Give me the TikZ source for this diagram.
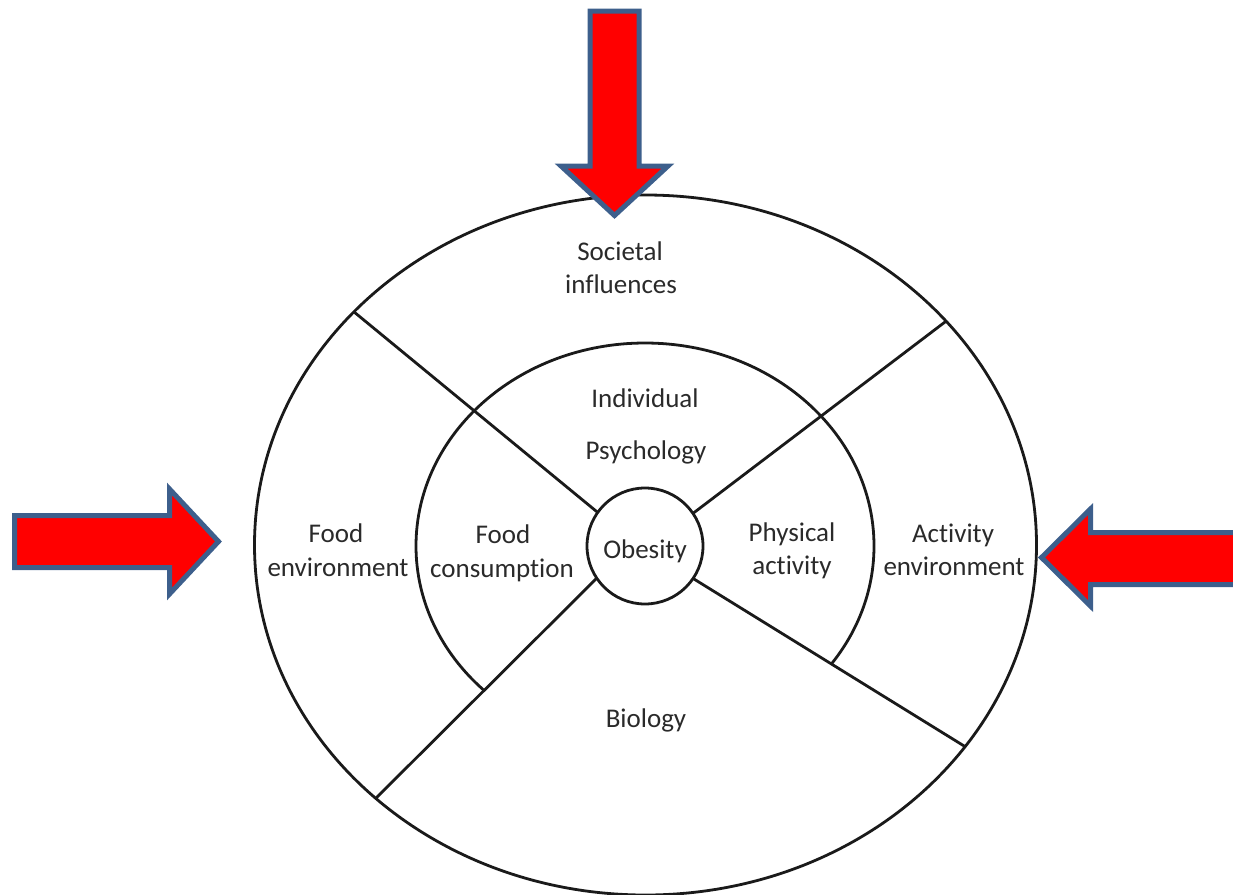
\documentclass[tikz,border=0pt]{standalone}
\usepackage{fontspec}
\setmainfont{Carlito}[Ligatures={NoCommon}]
\definecolor{arrowred}{HTML}{FF0000}
\definecolor{arrowedge}{HTML}{3D5F8C}
\definecolor{linegray}{HTML}{1A1A1A}
\definecolor{textgray}{HTML}{2A2A2A}
\begin{document}
\begin{tikzpicture}[x=1pt,y=-1pt,
  ring/.style={draw=linegray,line width=2.8pt},
  divider/.style={draw=linegray,line width=2.8pt},
  bigarrow/.style={fill=arrowred,draw=arrowedge,line width=5pt,line join=miter},
  lbl/.style={font=\fontsize{27}{33}\selectfont,text=textgray,inner sep=0pt,anchor=base}]
\useasboundingbox (0,0) rectangle (1233,894);
\clip (0,0) rectangle (1233,894);

% centres
\coordinate (oc) at (645.5,545);
\coordinate (ic) at (645,546);
\coordinate (cc) at (645,546);

% dividers clipped to outer ellipse
\begin{scope}
  \clip (oc) ellipse [x radius=391pt, y radius=350pt];
  \coordinate (ul1) at (613,525); \coordinate (ul2) at (331,293);
  \coordinate (ur1) at (679,524); \coordinate (ur2) at (970,303);
  \coordinate (ll1) at (611,564); \coordinate (ll2) at (355,819);
  \coordinate (lr1) at (681,571); \coordinate (lr2) at (990,762);
  \draw[divider] (ul1) -- (ul2);
  \draw[divider] (ur1) -- (ur2);
  \draw[divider] (ll1) -- (ll2);
  \draw[divider] (lr1) -- (lr2);
\end{scope}

% inner arc (ellipse without the bottom wedge)
\begin{scope}
  \clip (633.4,541.8) -- (1375,1000) -- (1400,1000) -- (1400,-100) -- (-100,-100) -- (-100,1000) -- (173.3,1000) -- cycle;
  \draw[ring] (ic) ellipse [x radius=229pt, y radius=203pt];
\end{scope}

\draw[ring] (oc) ellipse [x radius=391pt, y radius=350pt];

% centre circle
\node[circle,draw=linegray,line width=2.8pt,fill=white,minimum size=116pt,inner sep=0pt] (obc) at (cc) {};

% labels
\node[lbl] (soc1) at (620,260) {Societal};
\node[lbl] (soc2) at (621,293) {influences};
\node[lbl] (ind1) at (645,407) {Individual};
\node[lbl] (ind2) at (646,459) {Psychology};
\node[lbl] (fe1) at (336,542) {Food};
\node[lbl] (fe2) at (338,576) {environment};
\node[lbl] (fc1) at (503,543) {Food};
\node[lbl] (fc2) at (502,577) {consumption};
\node[lbl] (pa1) at (792,541) {Physical};
\node[lbl] (pa2) at (792,574) {activity};
\node[lbl] (ae1) at (953,542) {Activity};
\node[lbl] (ae2) at (954,575) {environment};
\node[lbl] (ob) at (645,558) {Obesity};
\node[lbl] (bio) at (646,727) {Biology};

% arrows
\draw[bigarrow] (590,11) -- (639,11) -- (639,166) -- (668,166) -- (614.5,215.5) -- (561,166) -- (590,166) -- cycle;
\draw[bigarrow] (14.5,515.5) -- (169.5,515.5) -- (169.5,489) -- (218.5,541.5) -- (169.5,594) -- (169.5,567.5) -- (14.5,567.5) -- cycle;
\draw[bigarrow] (1250,532.5) -- (1090.5,532.5) -- (1090.5,509) -- (1041.5,557.5) -- (1090.5,606) -- (1090.5,584.5) -- (1250,584.5) -- cycle;
\end{tikzpicture}
\end{document}
